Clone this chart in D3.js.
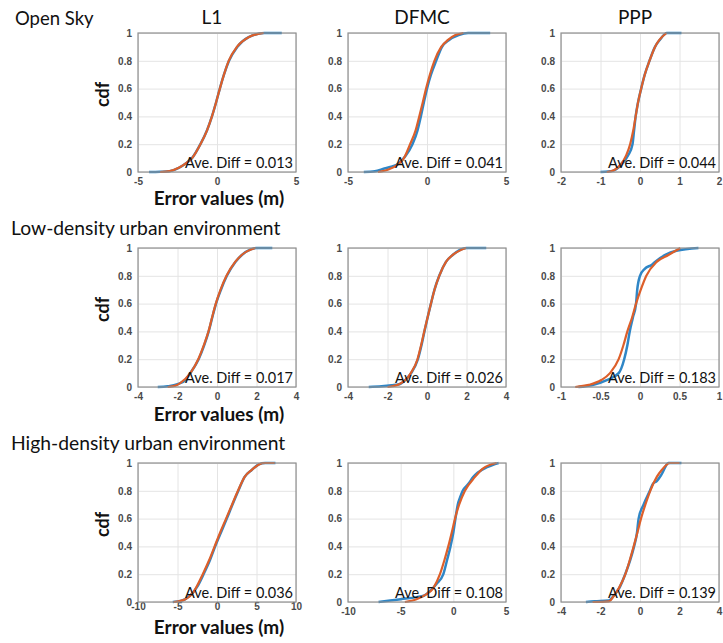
<!DOCTYPE html>
<html>
<head>
<meta charset="utf-8">
<script src="https://cdn.jsdelivr.net/npm/d3@7"></script>
<style>
  body { margin: 0; background: #fff; }
  svg { display: block; }
</style>
</head>
<body>
<svg id="chart" width="723" height="643"></svg>
<script>
// row and column titles
const rowTitles = ['Open Sky', 'Low-density urban environment', 'High-density urban environment']
const colTitles = ['L1', 'DFMC', 'PPP']
const aveDiff = [
  ['0.013', '0.041', '0.044'],
  ['0.017', '0.026', '0.183'],
  ['0.036', '0.108', '0.139']
]

// x tick values per panel (row by row)
const xTicks = [
  [[-5, 0, 5], [-5, 0, 5], [-2, -1, 0, 1, 2]],
  [[-4, -2, 0, 2, 4], [-4, -2, 0, 2, 4], [-1, -0.5, 0, 0.5, 1]],
  [[-10, -5, 0, 5, 10], [-10, -5, 0, 5], [-4, -2, 0, 2, 4]]
]
const yTicks = [0, 0.2, 0.4, 0.6, 0.8, 1]

// cdf curves, [error value, cdf]
// blue = empirical, orange = fitted
const openL1Blue = [[-4.3,0],[-3.6,0.002],[-3,0.006],[-2.42,0.03],[-2,0.06],[-1.58,0.1],[-1.05,0.2],[-0.63,0.3],[-0.32,0.4],[-0.06,0.5],[0.18,0.6],[0.44,0.7],[0.76,0.8],[1.28,0.9],[2,0.97],[3,1],[4.1,1]]
const openL1Orange = [[-3.6,0],[-3,0.006],[-2.42,0.03],[-2,0.06],[-1.58,0.1],[-1.05,0.2],[-0.63,0.3],[-0.32,0.4],[-0.06,0.5],[0.18,0.6],[0.44,0.7],[0.74,0.8],[1.26,0.9],[2,0.97],[2.95,1]]

const openDfmcBlue = [[-4,0],[-3.3,0.005],[-2.7,0.025],[-2.2,0.04],[-1.8,0.06],[-1.4,0.11],[-0.92,0.2],[-0.6,0.3],[-0.39,0.4],[-0.2,0.5],[0,0.6],[0.25,0.7],[0.58,0.8],[0.95,0.9],[1.4,0.95],[2,0.985],[2.6,1],[4,1]]
const openDfmcOrange = [[-3.1,0],[-2.4,0.02],[-1.9,0.05],[-1.46,0.1],[-1.07,0.2],[-0.72,0.3],[-0.49,0.4],[-0.27,0.5],[-0.06,0.6],[0.18,0.7],[0.47,0.8],[0.9,0.9],[1.33,0.95],[1.8,0.985],[2.3,1]]

const openPppBlue = [[-1,0],[-0.8,0.003],[-0.6,0.02],[-0.45,0.06],[-0.3,0.12],[-0.19,0.2],[-0.15,0.3],[-0.11,0.4],[-0.05,0.5],[0.03,0.6],[0.12,0.7],[0.24,0.8],[0.38,0.9],[0.5,0.95],[0.68,1],[1.05,1]]
const openPppOrange = [[-0.84,0],[-0.65,0.015],[-0.5,0.05],[-0.35,0.12],[-0.25,0.2],[-0.17,0.3],[-0.11,0.4],[-0.05,0.5],[0.03,0.6],[0.12,0.7],[0.24,0.8],[0.38,0.9],[0.49,0.95],[0.67,1]]

const lowL1Blue = [[-3,0],[-2.5,0.005],[-2,0.02],[-1.6,0.05],[-1.35,0.1],[-0.93,0.2],[-0.65,0.3],[-0.42,0.4],[-0.24,0.5],[-0.05,0.6],[0.2,0.7],[0.5,0.8],[0.93,0.9],[1.26,0.95],[1.7,0.99],[2,1],[2.8,1]]
const lowL1Orange = [[-2.5,0],[-2.1,0.01],[-1.85,0.03],[-1.35,0.1],[-0.95,0.2],[-0.67,0.3],[-0.43,0.4],[-0.25,0.5],[-0.06,0.6],[0.18,0.7],[0.48,0.8],[0.92,0.9],[1.25,0.95],[1.94,1]]

const lowDfmcBlue = [[-2.95,0],[-2.3,0.005],[-1.8,0.012],[-1.4,0.02],[-1.1,0.05],[-0.8,0.1],[-0.46,0.2],[-0.28,0.3],[-0.13,0.4],[0.03,0.5],[0.2,0.6],[0.38,0.7],[0.62,0.8],[0.96,0.9],[1.3,0.95],[2,1],[3,1]]
const lowDfmcOrange = [[-2,0],[-1.41,0.02],[-1.1,0.05],[-0.82,0.1],[-0.48,0.2],[-0.3,0.3],[-0.14,0.4],[0.03,0.5],[0.2,0.6],[0.38,0.7],[0.62,0.8],[0.96,0.9],[1.3,0.95],[1.97,1]]

const lowPppBlue = [[-0.78,0],[-0.6,0.015],[-0.42,0.05],[-0.27,0.1],[-0.2,0.2],[-0.16,0.3],[-0.13,0.4],[-0.09,0.5],[-0.05,0.6],[-0.035,0.7],[0,0.8],[0.06,0.85],[0.15,0.88],[0.19,0.9],[0.32,0.95],[0.46,0.98],[0.74,1]]
const lowPppOrange = [[-0.82,0],[-0.65,0.015],[-0.49,0.05],[-0.38,0.1],[-0.27,0.2],[-0.21,0.3],[-0.16,0.4],[-0.1,0.5],[-0.05,0.6],[0.01,0.7],[0.08,0.8],[0.21,0.9],[0.36,0.95],[0.51,1]]

const highL1Blue = [[-5.6,0],[-4.5,0.01],[-4,0.02],[-3,0.07],[-2.5,0.11],[-1.7,0.2],[-0.9,0.3],[-0.23,0.4],[0.5,0.5],[1.24,0.6],[1.95,0.7],[2.7,0.8],[3.5,0.9],[4.4,0.95],[5.3,0.99],[6.1,1],[7.4,1]]
const highL1Orange = [[-5.5,0],[-4,0.02],[-3,0.07],[-1.8,0.2],[-1,0.3],[-0.3,0.4],[0.4,0.5],[1.15,0.6],[1.9,0.7],[2.65,0.8],[3.5,0.9],[4.4,0.95],[5.3,0.99],[6.1,1],[7.3,1]]

const highDfmcBlue = [[-7.1,0],[-6,0.01],[-5,0.02],[-3.5,0.035],[-2.8,0.045],[-2.2,0.08],[-1.6,0.13],[-0.95,0.2],[-0.6,0.3],[-0.27,0.4],[0,0.5],[0.2,0.6],[0.42,0.7],[0.63,0.75],[0.89,0.8],[1.43,0.85],[1.9,0.9],[2.3,0.93],[3.2,0.97],[4.3,1]]
const highDfmcOrange = [[-4.6,0],[-3.5,0.02],[-2.7,0.05],[-1.9,0.1],[-1.27,0.2],[-0.85,0.3],[-0.48,0.4],[-0.15,0.5],[0.16,0.6],[0.55,0.7],[1.1,0.8],[2.06,0.9],[2.8,0.96],[4.1,1]]

const highPppBlue = [[-2.74,0],[-2.3,0.005],[-1.6,0.01],[-1.3,0.05],[-1.05,0.1],[-0.75,0.2],[-0.5,0.3],[-0.3,0.4],[-0.15,0.5],[-0.07,0.6],[0.18,0.7],[0.5,0.8],[0.65,0.85],[0.85,0.87],[1.1,0.92],[1.44,1],[2.1,1]]
const highPppOrange = [[-2.4,0],[-1.57,0.005],[-1.3,0.05],[-1.07,0.1],[-0.74,0.2],[-0.52,0.3],[-0.32,0.4],[-0.13,0.5],[0.05,0.6],[0.27,0.7],[0.52,0.8],[0.85,0.9],[1.1,0.95],[1.52,1],[2,1]]

const curves = [
  [[openL1Blue, openL1Orange], [openDfmcBlue, openDfmcOrange], [openPppBlue, openPppOrange]],
  [[lowL1Blue, lowL1Orange], [lowDfmcBlue, lowDfmcOrange], [lowPppBlue, lowPppOrange]],
  [[highL1Blue, highL1Orange], [highDfmcBlue, highDfmcOrange], [highPppBlue, highPppOrange]]
]

// layout
const colX = [138, 348, 561]
const rowY = [33, 248, 463]
const pw = 158, ph = 139
const blue = '#2f86c6', orange = '#dd5f2a'
const font = 'Lato, "Open Sans", sans-serif'

const svg = d3.select('#chart')

function drawPanel(r, c) {
  const ticks = xTicks[r][c]
  const x = d3.scaleLinear().domain([ticks[0], ticks[ticks.length - 1]]).range([0, pw])
  const y = d3.scaleLinear().domain([0, 1]).range([ph, 0])

  const g = svg.append('g').attr('transform', 'translate(' + colX[c] + ',' + rowY[r] + ')')

  g.append('rect').attr('width', pw).attr('height', ph).attr('fill', '#fff')

  // grid
  g.append('g')
    .attr('transform', 'translate(0,' + ph + ')')
    .call(d3.axisBottom(x).tickValues(ticks).tickSize(-ph).tickFormat(''))
    .call(a => a.select('.domain').remove())
    .selectAll('line').attr('stroke', '#e4e4e4')
  g.append('g')
    .call(d3.axisLeft(y).tickValues(yTicks).tickSize(-pw).tickFormat(''))
    .call(a => a.select('.domain').remove())
    .selectAll('line').attr('stroke', '#e4e4e4')

  // tick labels (bottom-left panel sits tighter to its axis)
  const pad = (r === 2 && c === 0) ? 1 : 6
  const xa = g.append('g')
    .attr('transform', 'translate(0,' + ph + ')')
    .call(d3.axisBottom(x).tickValues(ticks).tickSize(0).tickPadding(pad).tickFormat(d => String(d)))
  const ya = g.append('g')
    .call(d3.axisLeft(y).tickValues(yTicks).tickSize(0).tickPadding(6).tickFormat(d => String(d)))
  ;[xa, ya].forEach(a => {
    a.select('.domain').remove()
    a.selectAll('text')
      .attr('fill', '#4a4a4a')
      .style('font-family', '"Liberation Sans", Arial, sans-serif')
      .style('font-weight', 'bold')
      .style('font-size', '10px')
  })

  // curves
  const line = d3.line()
    .x(d => x(d[0]))
    .y(d => y(d[1]))
    .curve(d3.curveMonotoneX)
  const [bl, or] = curves[r][c]
  g.append('path').datum(bl).attr('d', line)
    .attr('fill', 'none').attr('stroke', blue).attr('stroke-width', 2.5)
  g.append('path').datum(or).attr('d', line)
    .attr('fill', 'none').attr('stroke', orange).attr('stroke-width', 2.2)

  // frame
  g.append('rect').attr('width', pw).attr('height', ph)
    .attr('fill', 'none').attr('stroke', '#8f8f8f').attr('stroke-width', 1.2)

  g.append('text')
    .attr('x', pw - 3).attr('y', ph - 4)
    .attr('text-anchor', 'end')
    .style('font-family', font).style('font-size', '14.5px')
    .attr('fill', '#111')
    .text('Ave. Diff = ' + aveDiff[r][c])
}

for (let r = 0; r < 3; r++) {
  for (let c = 0; c < 3; c++) drawPanel(r, c)
}

// row titles
const rowTitleY = [25, 235, 450]
rowTitles.forEach((t, i) => {
  svg.append('text')
    .attr('x', i === 0 ? 15 : 11).attr('y', rowTitleY[i])
    .style('font-family', font).style('font-size', i === 0 ? '18.5px' : '19.3px')
    .attr('fill', '#111')
    .text(t)
})

// column titles
colTitles.forEach((t, i) => {
  svg.append('text')
    .attr('x', colX[i] + pw / 2 - 5).attr('y', 24)
    .attr('text-anchor', 'middle')
    .style('font-family', font).style('font-size', '19px')
    .attr('fill', '#111')
    .text(t)
})

// axis labels
const xLabelGap = [33, 34, 32]
rowY.forEach((ry, i) => {
  svg.append('text')
    .attr('transform', 'translate(109,' + (ry + ph / 2 - 8) + ') rotate(-90)')
    .attr('text-anchor', 'middle')
    .style('font-family', font).style('font-size', '18px').style('font-weight', 'bold')
    .attr('fill', '#111')
    .text('cdf')
  svg.append('text')
    .attr('x', colX[0] + pw / 2 + 2).attr('y', ry + ph + xLabelGap[i])
    .attr('text-anchor', 'middle')
    .style('font-family', font).style('font-size', '19px').style('font-weight', 'bold')
    .attr('fill', '#111')
    .text('Error values (m)')
})
</script>
</body>
</html>
